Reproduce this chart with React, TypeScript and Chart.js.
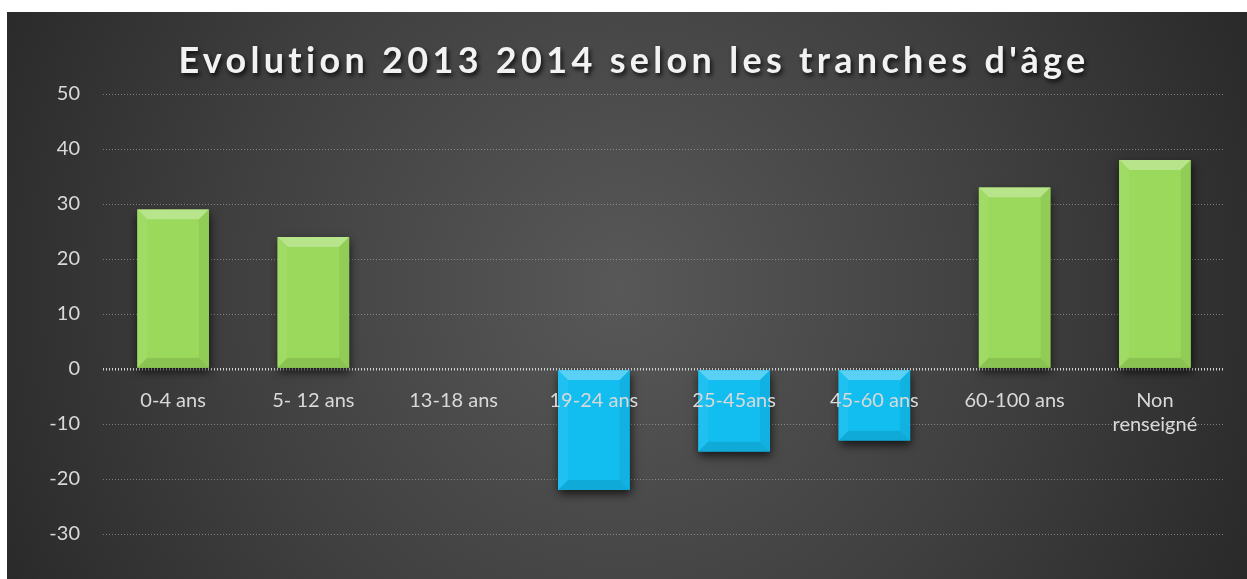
import React, { useEffect, useRef } from "react";
import { Chart, registerables } from "chart.js";

Chart.register(...registerables);

const TITLE = "Evolution 2013 2014 selon les tranches d'âge";
const categories: (string | string[])[] = [
  "0-4 ans",
  "5- 12 ans",
  "13-18 ans",
  "19-24 ans",
  "25-45ans",
  "45-60 ans",
  "60-100 ans",
  ["Non", "renseigné"],
];
const evolution = [29, 24, 0, -22, -15, -13, 33, 38];
const yTicks = { min: -30, max: 50, step: 10 };

const GREEN = "#9ad95b";
const BLUE = "#12bdf0";
const FONT = "Lato, 'Open Sans', sans-serif";

function shade(hex: string, amt: number) {
  const n = parseInt(hex.slice(1), 16);
  let r = (n >> 16) & 255, g = (n >> 8) & 255, b = n & 255;
  if (amt >= 0) {
    r = r + (255 - r) * amt; g = g + (255 - g) * amt; b = b + (255 - b) * amt;
  } else {
    r = r * (1 + amt); g = g * (1 + amt); b = b * (1 + amt);
  }
  return `rgb(${Math.round(r)},${Math.round(g)},${Math.round(b)})`;
}

const backgroundPlugin = {
  id: "bgFrame",
  beforeDraw(chart: any) {
    const { ctx, width, height } = chart;
    ctx.save();
    ctx.fillStyle = "#ffffff";
    ctx.fillRect(0, 0, width, height);
    const g = ctx.createRadialGradient(620, 290, 0, 620, 290, 720);
    g.addColorStop(0, "#585858");
    g.addColorStop(0.55, "#3f3f3f");
    g.addColorStop(1, "#272727");
    ctx.fillStyle = g;
    ctx.fillRect(7, 12, width - 7, height - 12);
    ctx.restore();
  },
};

const titlePlugin = {
  id: "fancyTitle",
  afterDraw(chart: any) {
    const { ctx } = chart;
    ctx.save();
    ctx.font = `bold 36px ${FONT}`;
    (ctx as any).letterSpacing = "4.3px";
    ctx.textAlign = "center";
    ctx.textBaseline = "alphabetic";
    ctx.shadowColor = "rgba(0,0,0,0.75)";
    ctx.shadowBlur = 4;
    ctx.shadowOffsetX = 2;
    ctx.shadowOffsetY = 3;
    ctx.fillStyle = "#f2f2f2";
    ctx.fillText(TITLE, 634, 73);
    ctx.restore();
  },
};

const bevelPlugin = {
  id: "bevel",
  beforeDatasetsDraw(chart: any) {
    const { ctx } = chart;
    ctx.save();
    ctx.shadowColor = "rgba(0,0,0,0.7)";
    ctx.shadowBlur = 9;
    ctx.shadowOffsetX = 1;
    ctx.shadowOffsetY = 4;
  },
  afterDatasetsDraw(chart: any) {
    const { ctx } = chart;
    ctx.restore();
    const meta = chart.getDatasetMeta(0);
    meta.data.forEach((bar: any, i: number) => {
      const v = evolution[i];
      if (!v) return;
      const base = v >= 0 ? GREEN : BLUE;
      const left = bar.x - bar.width / 2;
      const right = bar.x + bar.width / 2;
      const top = Math.min(bar.y, bar.base);
      const bottom = Math.max(bar.y, bar.base);
      const b = 10;
      ctx.save();
      ctx.fillStyle = shade(base, 0.3);
      ctx.beginPath();
      ctx.moveTo(left, top); ctx.lineTo(right, top);
      ctx.lineTo(right - b, top + b); ctx.lineTo(left + b, top + b);
      ctx.closePath(); ctx.fill();
      ctx.fillStyle = shade(base, 0.06);
      ctx.beginPath();
      ctx.moveTo(left, top); ctx.lineTo(left + b, top + b);
      ctx.lineTo(left + b, bottom - b); ctx.lineTo(left, bottom);
      ctx.closePath(); ctx.fill();
      ctx.fillStyle = shade(base, -0.06);
      ctx.beginPath();
      ctx.moveTo(right, top); ctx.lineTo(right - b, top + b);
      ctx.lineTo(right - b, bottom - b); ctx.lineTo(right, bottom);
      ctx.closePath(); ctx.fill();
      ctx.fillStyle = shade(base, -0.1);
      ctx.beginPath();
      ctx.moveTo(left, bottom); ctx.lineTo(right, bottom);
      ctx.lineTo(right - b, bottom - b); ctx.lineTo(left + b, bottom - b);
      ctx.closePath(); ctx.fill();
      ctx.fillStyle = base;
      ctx.fillRect(left + b, top + b, right - left - 2 * b, bottom - top - 2 * b);
      ctx.restore();
    });
  },
};

export default function App() {
  const ref = useRef<HTMLCanvasElement | null>(null);
  useEffect(() => {
    document.body.style.margin = "0";
    if (!ref.current) return;
    const chart = new Chart(ref.current, {
      type: "bar",
      data: {
        labels: categories,
        datasets: [
          {
            data: evolution,
            backgroundColor: (c: any) => (c.raw >= 0 ? GREEN : BLUE),
            borderWidth: 0,
            categoryPercentage: 1,
            barPercentage: 0.51,
          },
        ],
      },
      options: {
        animation: false,
        responsive: false,
        maintainAspectRatio: false,
        layout: { padding: { left: 7, top: 94, right: 22, bottom: 45 } },
        plugins: {
          legend: { display: false },
          title: { display: false },
          tooltip: { enabled: false },
        },
        scales: {
          x: {
            position: { y: 0 } as any,
            grid: { display: false, drawTicks: false },
            border: { display: false },
            ticks: {
              z: 1,
              color: "#d9d9d9",
              font: { family: FONT, size: 20 },
              padding: 20,
              maxRotation: 0,
              autoSkip: false,
            },
          },
          y: {
            min: yTicks.min,
            max: yTicks.max,
            afterFit: (s: any) => { s.width = 96; },
            ticks: {
              stepSize: yTicks.step,
              color: "#d9d9d9",
              font: { family: FONT, size: 20 },
              padding: 23,
            },
            border: { display: false, dash: [1, 2] },
            grid: {
              drawTicks: false,
              color: (c: any) => (c.tick && c.tick.value === 0 ? "rgba(220,220,220,0.95)" : "rgba(200,200,200,0.5)"),
              lineWidth: (c: any) => (c.tick && c.tick.value === 0 ? 2.5 : 1),
            },
          },
        },
      },
      plugins: [backgroundPlugin, bevelPlugin, titlePlugin],
    } as any);
    return () => chart.destroy();
  }, []);
  return (
    <div style={{ width: 1247, height: 579 }}>
      <canvas ref={ref} width={1247} height={579} style={{ display: "block" }} />
    </div>
  );
}
